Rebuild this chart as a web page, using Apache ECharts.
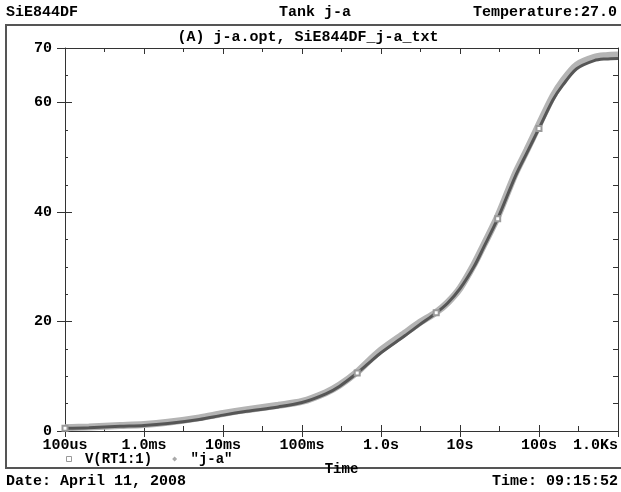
<!DOCTYPE html>
<html>
<head>
<meta charset="utf-8">
<script src="https://cdn.jsdelivr.net/npm/echarts@6/dist/echarts.min.js"></script>
<style>
html,body{margin:0;padding:0;background:#fff;}
#chart{width:621px;height:492px;}
</style>
</head>
<body>
<div id="chart"></div>
<script>
// ---- data ----
const timeSim = [1e-4, 2e-4, 5e-4, 1e-3, 2e-3, 5e-3, 1e-2, 2e-2, 5e-2, 0.1, 0.2, 0.3, 0.5, 0.7, 1, 2, 3, 5, 7, 10, 15, 20, 30, 50, 70, 100, 150, 200, 300, 500, 700, 1000];
const vSim    = [0.5, 0.6, 0.85, 1.0, 1.35, 2.1, 2.9, 3.6, 4.4, 5.2, 6.8, 8.2, 10.6, 12.4, 14.3, 17.4, 19.3, 21.6, 23.4, 26.0, 30.0, 33.6, 38.8, 46.5, 50.8, 55.3, 60.5, 63.2, 66.2, 67.7, 68.0, 68.1];
const timeMeas = [1e-4, 2e-4, 5e-4, 1e-3, 2e-3, 5e-3, 1e-2, 2e-2, 5e-2, 0.1, 0.2, 0.3, 0.5, 0.7, 1, 2, 3, 5, 7, 10, 15, 20, 30, 50, 70, 100, 150, 200, 300, 500, 700, 1000];
const vMeas    = [0.6, 0.75, 1.0, 1.2, 1.6, 2.4, 3.2, 3.9, 4.7, 5.4, 7.0, 8.4, 10.8, 12.8, 14.8, 17.9, 19.7, 21.7, 23.5, 26.1, 30.4, 34.0, 39.2, 47.0, 51.3, 56.0, 61.2, 64.0, 66.9, 68.3, 68.6, 68.7];
const simMarkerTimes = [1e-4, 0.5, 5, 30, 100];
const xTickLabels = ['100us', '1.0ms', '10ms', '100ms', '1.0s', '10s', '100s', '1.0Ks'];
const yLabelValues = [0, 20, 40, 60, 70];
const seriesNames = ['V(RT1:1)', '"j-a"'];

const FONT = 'Liberation Mono';

function buildData(ts, vs, markTimes, markColor) {
  return ts.map((t, i) => {
    if (markTimes && markTimes.indexOf(t) >= 0) {
      return { value: [t, vs[i]], symbol: 'emptyRect', symbolSize: 5,
               itemStyle: { color: markColor, borderColor: markColor, borderWidth: 1 } };
    }
    return { value: [t, vs[i]], symbol: 'none' };
  });
}

const chart = echarts.init(document.getElementById('chart'), null, { renderer: 'canvas' });
const axisColor = '#333';

const option = {
  animation: false,
  backgroundColor: '#fff',
  grid: { left: 65, right: 1, top: 48, bottom: 61, containLabel: false },
  legend: {
    left: 61, top: 447,
    itemWidth: 5, itemHeight: 5, itemGap: 20,
    textStyle: { fontFamily: FONT, fontWeight: 'bold', fontSize: 14, color: '#000' },
    formatter: n => ' ' + n,
    data: [
      { name: seriesNames[0], icon: 'rect', itemStyle: { color: '#fff', borderColor: '#999', borderWidth: 1 } },
      { name: seriesNames[1], icon: 'diamond', itemStyle: { color: '#aaa', borderColor: '#aaa', borderWidth: 0 } }
    ]
  },
  xAxis: [
    {
      type: 'log', logBase: 10, min: 1e-4, max: 1e3, position: 'bottom',
      name: 'Time', nameLocation: 'middle', nameGap: 31,
      nameTextStyle: { fontFamily: FONT, fontWeight: 'bold', fontSize: 14, color: '#000' },
      axisLine: { show: true, onZero: false, lineStyle: { color: axisColor, width: 1 } },
      axisTick: { show: true, inside: false, length: 6, lineStyle: { color: axisColor } },
      minorTick: { show: false },
      splitLine: { show: false },
      axisLabel: {
        show: true, margin: 7, fontFamily: FONT, fontWeight: 'bold', fontSize: 15, color: '#000',
        alignMaxLabel: 'right',
        formatter: v => xTickLabels[Math.round(Math.log10(v)) + 4]
      }
    },
    {
      type: 'value', min: -4, max: 3, interval: 1, position: 'bottom',
      axisLine: { show: false, onZero: false },
      axisTick: { show: true, inside: true, length: 6, lineStyle: { color: axisColor } },
      minorTick: { show: true, splitNumber: 2, length: 5, lineStyle: { color: axisColor } },
      splitLine: { show: false }, minorSplitLine: { show: false },
      axisLabel: { show: false }
    },
    {
      type: 'value', min: -4, max: 3, interval: 1, position: 'top',
      axisLine: { show: true, onZero: false, lineStyle: { color: axisColor, width: 1 } },
      axisTick: { show: true, inside: true, length: 6, lineStyle: { color: axisColor } },
      minorTick: { show: true, splitNumber: 2, length: 4, lineStyle: { color: axisColor } },
      splitLine: { show: false },
      axisLabel: { show: false }
    }
  ],
  yAxis: [
    {
      type: 'value', min: 0, max: 70, position: 'left',
      axisLine: { show: true, onZero: false, lineStyle: { color: axisColor, width: 1 } },
      axisTick: { show: true, inside: false, length: 8, customValues: yLabelValues, lineStyle: { color: axisColor } },
      splitLine: { show: false },
      axisLabel: { show: true, margin: 13, customValues: yLabelValues,
        fontFamily: FONT, fontWeight: 'bold', fontSize: 15, color: '#000' }
    },
    {
      type: 'value', min: 0, max: 70, position: 'left',
      axisLine: { show: false, onZero: false },
      axisTick: { show: true, inside: true, length: 7, customValues: [0, 20, 40, 60], lineStyle: { color: axisColor } },
      splitLine: { show: false },
      axisLabel: { show: false }
    },
    {
      type: 'value', min: 0, max: 70, interval: 5, position: 'left',
      axisLine: { show: false, onZero: false },
      axisTick: { show: true, inside: true, length: 3, lineStyle: { color: axisColor } },
      splitLine: { show: false },
      axisLabel: { show: false }
    },
    {
      type: 'value', min: 0, max: 70, interval: 5, position: 'right',
      axisLine: { show: true, onZero: false, lineStyle: { color: axisColor, width: 1 } },
      axisTick: { show: true, inside: true, length: 5, lineStyle: { color: axisColor } },
      splitLine: { show: false },
      axisLabel: { show: false }
    }
  ],
  series: [
    {
      name: seriesNames[0], type: 'line', xAxisIndex: 0, yAxisIndex: 0, z: 4,
      showSymbol: true, symbol: 'none', smooth: 0.3,
      lineStyle: { color: '#565656', width: 3 },
      itemStyle: { color: '#565656' },
      data: buildData(timeSim, vSim, simMarkerTimes, '#9a9a9a')
    },
    {
      name: seriesNames[1], type: 'line', xAxisIndex: 0, yAxisIndex: 0, z: 3,
      showSymbol: false, symbol: 'none', smooth: 0.3,
      lineStyle: { color: '#b4b4b4', width: 7 },
      itemStyle: { color: '#b4b4b4' },
      data: buildData(timeMeas, vMeas, null, null)
    }
  ],
  graphic: [
    { type: 'rect', z: 0, silent: true, shape: { x: 6, y: 25, width: 630, height: 443 },
      style: { fill: 'none', stroke: '#555', lineWidth: 2 } },
    { type: 'text', x: 6, y: 12, style: { text: 'SiE844DF', font: 'bold 15px "Liberation Mono"', fill: '#000', textAlign: 'left', textVerticalAlign: 'middle' } },
    { type: 'text', x: 315, y: 12, style: { text: 'Tank j-a', font: 'bold 15px "Liberation Mono"', fill: '#000', textAlign: 'center', textVerticalAlign: 'middle' } },
    { type: 'text', x: 617, y: 12, style: { text: 'Temperature:27.0', font: 'bold 15px "Liberation Mono"', fill: '#000', textAlign: 'right', textVerticalAlign: 'middle' } },
    { type: 'text', x: 308, y: 37, style: { text: '(A) j-a.opt, SiE844DF_j-a_txt', font: 'bold 15px "Liberation Mono"', fill: '#000', textAlign: 'center', textVerticalAlign: 'middle' } },
    { type: 'text', x: 6, y: 481, style: { text: 'Date: April 11, 2008', font: 'bold 15px "Liberation Mono"', fill: '#000', textAlign: 'left', textVerticalAlign: 'middle' } },
    { type: 'text', x: 618, y: 481, style: { text: 'Time: 09:15:52', font: 'bold 15px "Liberation Mono"', fill: '#000', textAlign: 'right', textVerticalAlign: 'middle' } }
  ]
};
chart.setOption(option);
</script>
</body>
</html>
